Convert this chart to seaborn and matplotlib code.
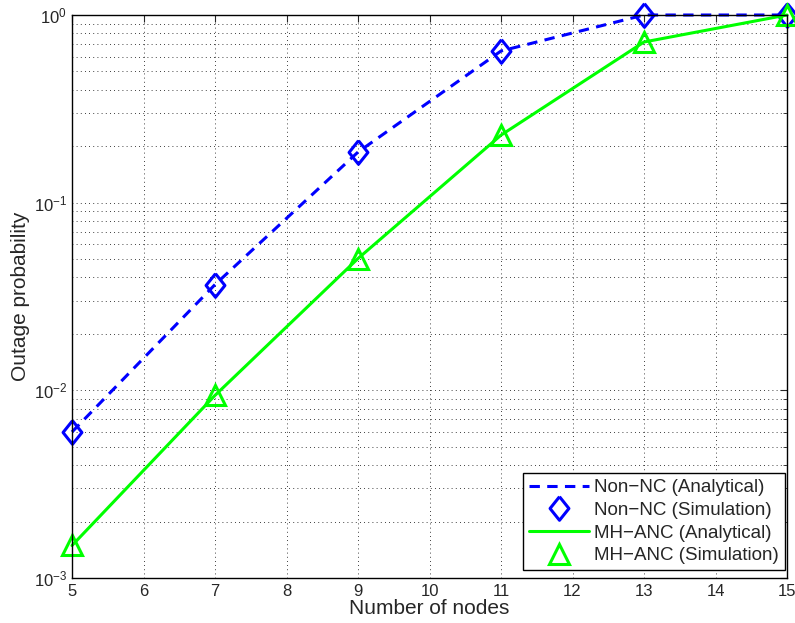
import numpy as np
import pandas as pd
import matplotlib
matplotlib.use("Agg")
import matplotlib.pyplot as plt
import seaborn as sns

# values
nodes = [5, 7, 9, 11, 13, 15]
non_nc = [0.0060, 0.0366, 0.186, 0.643, 1.0, 1.0]
mh_anc = [0.00149, 0.0094, 0.0504, 0.229, 0.718, 1.0]

df = pd.DataFrame({"nodes": nodes, "non_nc": non_nc, "mh_anc": mh_anc})

sns.set_style("white")
plt.rcParams['font.family'] = ['Liberation Sans', 'DejaVu Sans']
plt.rcParams['mathtext.default'] = 'regular'

fig = plt.figure(figsize=(7.95, 6.23), dpi=100)
ax = fig.add_axes([72 / 795, 45 / 623, 715 / 795, 563 / 623])

blue = "#0000ff"
green = "#00ff00"
# matlab-ish diamond, a bit narrower than tall
diamond = [(0, 1), (0.8, 0), (0, -1), (-0.8, 0), (0, 1)]

sns.lineplot(data=df, x="nodes", y="non_nc", ax=ax, color=blue, lw=2.2,
             linestyle=(0, (3.4, 2.4)), label="Non\u2212NC (Analytical)", clip_on=False)
sns.lineplot(data=df, x="nodes", y="non_nc", ax=ax, color=blue, linestyle="none",
             marker=diamond, markersize=17, markerfacecolor="none", markeredgecolor=blue,
             markeredgewidth=2.2, label="Non\u2212NC (Simulation)", clip_on=False)
sns.lineplot(data=df, x="nodes", y="mh_anc", ax=ax, color=green, lw=2.2,
             label="MH\u2212ANC (Analytical)", clip_on=False)
sns.lineplot(data=df, x="nodes", y="mh_anc", ax=ax, color=green, linestyle="none",
             marker="^", markersize=15, markerfacecolor="none", markeredgecolor=green,
             markeredgewidth=2.2, label="MH\u2212ANC (Simulation)", clip_on=False)

ax.set_yscale("log")
ax.set_xlim(5, 15)
ax.set_ylim(1e-3, 1)
ax.set_xticks(range(5, 16))

ax.grid(True, which="major", axis="x", color="k", linestyle=(0, (1, 4)), linewidth=0.6)
ax.grid(True, which="both", axis="y", color="k", linestyle=(0, (1, 4)), linewidth=0.6)
ax.tick_params(which="both", direction="in", top=True, right=True, labelsize=12)
ax.tick_params(axis="x", pad=4)
ax.tick_params(which="major", length=5, width=0.8)
ax.tick_params(which="minor", length=3, width=0.6)
ax.tick_params(axis="x", which="minor", bottom=False, top=False)
for s in ax.spines.values():
    s.set_color("k")
    s.set_linewidth(1)

ax.set_xlabel("Number of nodes", fontsize=15, labelpad=0.5)
ax.set_ylabel("Outage probability", fontsize=15, labelpad=3)

leg = ax.legend(loc="lower right", bbox_to_anchor=(0.997, 0.014), fontsize=13.5,
                frameon=True, fancybox=False, edgecolor="k", framealpha=1,
                borderaxespad=0, handlelength=3.2, borderpad=0.3, labelspacing=0.3,
                handletextpad=0.3)
leg.get_frame().set_linewidth(1)

fig.savefig("out.png", dpi=100)
